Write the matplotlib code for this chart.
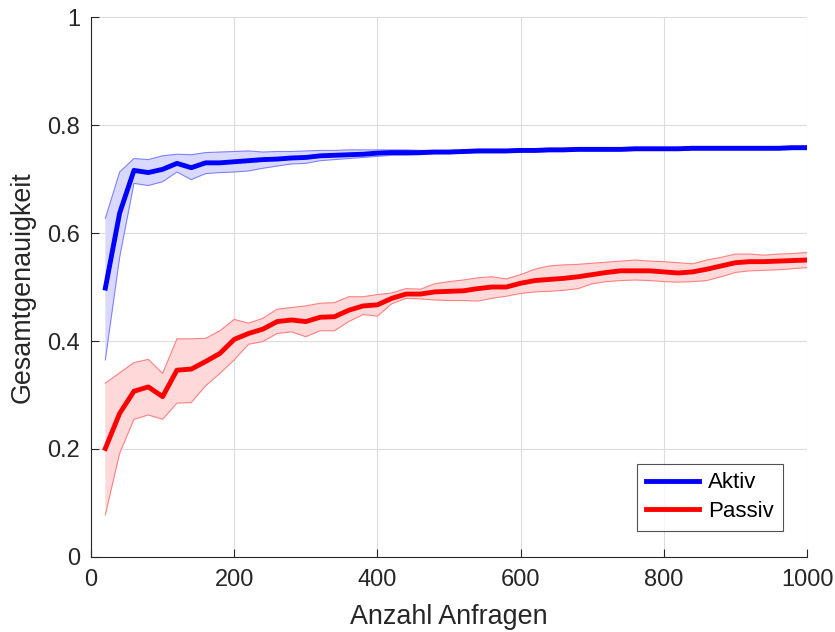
import matplotlib
matplotlib.use("Agg")
import matplotlib.pyplot as plt

plt.rcParams['font.family'] = ['Liberation Sans', 'DejaVu Sans']

# Anzahl Anfragen
x = [20, 40, 60, 80, 100, 120, 140, 160, 180, 200,
     220, 240, 260, 280, 300, 320, 340, 360, 380, 400,
     420, 440, 460, 480, 500, 520, 540, 560, 580, 600,
     620, 640, 660, 680, 700, 720, 740, 760, 780, 800,
     820, 840, 860, 880, 900, 920, 940, 960, 980, 1000]

# Aktiv: mean, upper, lower
aktiv = [.498, .637, .716, .712, .718, .729, .721, .730, .730, .732,
         .734, .736, .737, .739, .740, .743, .744, .745, .746, .748,
         .749, .749, .749, .750, .750, .751, .752, .752, .752, .753,
         .753, .754, .754, .755, .755, .755, .755, .756, .756, .756,
         .756, .757, .757, .757, .757, .757, .757, .757, .758, .758]
aktiv_hi = [.627, .713, .738, .736, .743, .746, .745, .749, .750, .751,
            .752, .750, .751, .751, .752, .753, .753, .754, .754, .754,
            .754, .754, .753, .753, .753, .754, .755, .755, .755, .756,
            .756, .757, .757, .758, .758, .758, .758, .759, .759, .759,
            .759, .760, .760, .760, .760, .760, .760, .760, .761, .761]
aktiv_lo = [.365, .555, .692, .688, .695, .713, .699, .710, .712, .713,
            .715, .720, .724, .728, .729, .734, .736, .738, .740, .742,
            .744, .744, .745, .747, .747, .748, .749, .749, .749, .750,
            .750, .751, .751, .752, .752, .752, .752, .753, .753, .753,
            .753, .754, .754, .754, .754, .754, .754, .754, .755, .755]

# Passiv: mean, upper, lower
passiv = [.201, .266, .307, .315, .297, .346, .348, .362, .377, .403,
          .414, .422, .436, .439, .436, .444, .445, .457, .465, .467,
          .479, .487, .487, .491, .492, .493, .497, .500, .500, .507,
          .512, .514, .516, .519, .523, .527, .530, .530, .530, .528,
          .526, .528, .533, .539, .545, .547, .547, .548, .549, .550]
passiv_hi = [.322, .341, .360, .366, .340, .404, .404, .405, .419, .440,
             .433, .442, .459, .462, .465, .470, .471, .482, .482, .486,
             .489, .497, .496, .506, .510, .513, .517, .519, .515, .523,
             .533, .539, .541, .542, .544, .546, .548, .550, .548, .547,
             .545, .543, .550, .555, .561, .561, .559, .561, .562, .564]
passiv_lo = [.078, .192, .255, .263, .255, .285, .286, .317, .340, .365,
             .394, .399, .414, .417, .408, .419, .419, .436, .449, .446,
             .469, .479, .478, .476, .475, .475, .474, .479, .483, .488,
             .491, .492, .494, .497, .506, .510, .512, .513, .512, .510,
             .509, .510, .512, .519, .527, .530, .531, .532, .534, .536]

fig = plt.figure(figsize=(8.35, 6.32), dpi=100)
ax = fig.add_axes([0.109, 0.1187, 0.8575, 0.8543])

# bands
ax.fill_between(x, aktiv_lo, aktiv_hi, facecolor=(0.85, 0.85, 1.0), edgecolor='none', zorder=2)
ax.plot(x, aktiv_hi, color=(0.5, 0.5, 1.0), lw=0.8, zorder=3)
ax.plot(x, aktiv_lo, color=(0.5, 0.5, 1.0), lw=0.8, zorder=3)
ax.fill_between(x, passiv_lo, passiv_hi, facecolor=(1.0, 0.85, 0.85), edgecolor='none', zorder=2)
ax.plot(x, passiv_hi, color=(1.0, 0.5, 0.5), lw=0.8, zorder=3)
ax.plot(x, passiv_lo, color=(1.0, 0.5, 0.5), lw=0.8, zorder=3)

# means
ax.plot(x, aktiv, color='#0000ff', lw=3.5, label='Aktiv', zorder=4)
ax.plot(x, passiv, color='#ff0000', lw=3.5, label='Passiv', zorder=4)

ax.set_xlim(0, 1000)
ax.set_ylim(0, 1)
ax.set_xticks([0, 200, 400, 600, 800, 1000])
ax.set_yticks([0, 0.2, 0.4, 0.6, 0.8, 1])
ax.set_yticklabels(['0', '0.2', '0.4', '0.6', '0.8', '1'])
ax.grid(True, color='#dcdcdc', lw=0.8, zorder=0)
ax.set_axisbelow(True)
for s in ['top', 'right']:
    ax.spines[s].set_visible(False)
for s in ['left', 'bottom']:
    ax.spines[s].set_color('#262626')
    ax.spines[s].set_linewidth(0.8)
ax.tick_params(direction='in', length=6, labelsize=17, colors='#262626')
ax.tick_params(axis='x', pad=9)
ax.tick_params(axis='y', pad=8)

ax.set_xlabel('Anzahl Anfragen', fontsize=19.4, color='#262626', labelpad=9)
ax.set_ylabel('Gesamtgenauigkeit', fontsize=19.4, color='#262626', labelpad=8)

leg = ax.legend(loc='lower right', bbox_to_anchor=(0.966, 0.048), fontsize=16,
                frameon=True, fancybox=False, handlelength=2.4, borderpad=0.4,
                labelspacing=0.35, handletextpad=0.4, borderaxespad=0)
leg.get_frame().set_edgecolor('#262626')
leg.get_frame().set_linewidth(0.8)

fig.savefig('out.png', dpi=100)
